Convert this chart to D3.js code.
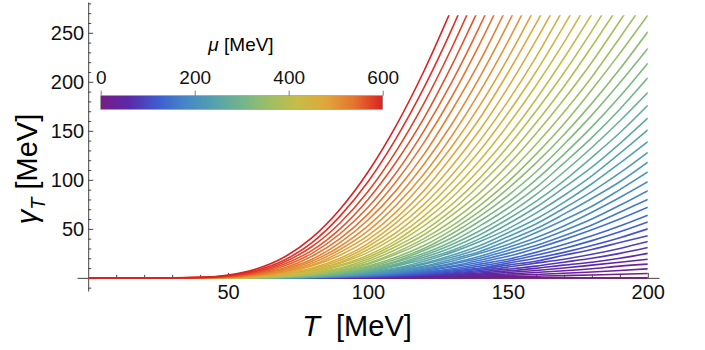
<!DOCTYPE html>
<html><head><meta charset="utf-8">
<script src="https://cdn.jsdelivr.net/npm/d3@7"></script>
<style>body{margin:0;background:#fff} svg{font-family:"Liberation Sans",Arial,sans-serif}</style>
</head><body><svg id="chart" width="705" height="350"></svg>
<script>
// chemical potential of each curve [MeV]
const muValues = [0, 12.5, 25, 37.5, 50, 62.5, 75, 87.5, 100, 112.5, 125, 137.5, 150, 162.5, 175, 187.5,
  200, 212.5, 225, 237.5, 250, 262.5, 275, 287.5, 300, 312.5, 325, 337.5, 350, 362.5, 375, 387.5,
  400, 412.5, 425, 437.5, 450, 462.5, 475, 487.5, 500, 512.5, 525, 537.5, 550, 562.5, 575, 587.5, 600];
// temperatures at which gamma_T was read [MeV]
const tGrid = [0, 30, 40, 50, 60, 70, 80, 90, 100, 110, 120, 130, 140, 150, 160, 170, 180, 190, 200];
// gamma_T [MeV], one row per mu (rows stop once above the plot top)
const gammaByMu = [
  [0,0,0,0,0,0,0,0,0,0,0,0,0,0,0,0,0,0,0],
  [0,0,0,0,0,0,0,0,0.1,0.2,0.3,0.6,0.9,1.2,1.7,2.3,2.9,3.7,4.5],
  [0,0,0,0,0,0,0,0.1,0.2,0.4,0.7,1.2,1.8,2.6,3.5,4.7,6,7.5,9.2],
  [0,0,0,0,0,0,0,0.1,0.3,0.6,1.1,1.8,2.8,4,5.5,7.2,9.3,12,14],
  [0,0,0,0,0,0,0.1,0.2,0.4,0.9,1.6,2.5,3.8,5.5,7.5,10,13,16,19],
  [0,0,0,0,0,0,0.1,0.3,0.6,1.2,2,3.3,5,7.1,9.7,13,16,20,25],
  [0,0,0,0,0,0,0.1,0.3,0.7,1.5,2.6,4.1,6.2,8.9,12,16,20,25,31],
  [0,0,0,0,0,0,0.1,0.4,0.9,1.8,3.1,5,7.5,11,15,19,24,30,37],
  [0,0,0,0,0,0,0.2,0.5,1.1,2.1,3.7,6,8.9,13,17,23,29,36,43],
  [0,0,0,0,0,0.1,0.2,0.6,1.3,2.5,4.4,7,10,15,20,26,33,41,50],
  [0,0,0,0,0,0.1,0.3,0.7,1.5,3,5.1,8.1,12,17,23,30,38,47,57],
  [0,0,0,0,0,0.1,0.3,0.8,1.8,3.4,5.9,9.3,14,19,26,34,43,53,64],
  [0,0,0,0,0,0.1,0.4,1,2.1,4,6.8,11,16,22,30,39,49,60,72],
  [0,0,0,0,0,0.1,0.4,1.1,2.4,4.5,7.7,12,18,25,33,43,54,67,80],
  [0,0,0,0,0,0.1,0.5,1.3,2.7,5.1,8.7,14,20,28,37,48,60,74,89],
  [0,0,0,0,0,0.2,0.6,1.5,3.1,5.8,9.8,15,22,31,41,53,67,82,98],
  [0,0,0,0,0,0.2,0.7,1.7,3.5,6.6,11,17,25,34,46,59,73,90,108],
  [0,0,0,0,0,0.2,0.8,1.9,4,7.4,12,19,27,38,50,65,81,98,118],
  [0,0,0,0,0.1,0.3,0.9,2.2,4.5,8.3,14,21,30,42,55,71,88,107,128],
  [0,0,0,0,0.1,0.3,1,2.5,5,9.3,15,23,33,46,60,77,96,117,139],
  [0,0,0,0,0.1,0.4,1.1,2.8,5.7,10,17,26,37,50,66,84,104,127,151],
  [0,0,0,0,0.1,0.4,1.3,3.2,6.4,12,19,28,40,55,72,92,113,137,163],
  [0,0,0,0,0.1,0.5,1.5,3.6,7.2,13,21,31,44,60,78,99,123,148,176],
  [0,0,0,0,0.1,0.6,1.7,4,8.1,14,23,34,48,65,85,108,133,160,189],
  [0,0,0,0,0.2,0.7,2,4.6,9,16,25,37,53,71,92,117,143,172,204],
  [0,0,0,0,0.2,0.8,2.2,5.1,10,17,28,41,58,77,100,126,154,185,219],
  [0,0,0,0,0.2,0.9,2.5,5.8,11,19,30,45,63,84,108,136,166,199,234],
  [0,0,0,0,0.3,1,2.9,6.5,12,21,33,49,68,91,117,146,178,213,251],
  [0,0,0,0.1,0.3,1.2,3.3,7.3,14,24,37,53,74,98,126,157,192,229,268],
  [0,0,0,0.1,0.4,1.4,3.7,8.2,15,26,40,58,80,106,136,169,205,245,286],
  [0,0,0,0.1,0.4,1.6,4.3,9.2,17,29,44,64,87,115,147,182,220,262,306],
  [0,0,0,0.1,0.5,1.9,4.8,10,19,32,48,69,95,124,158,195,236,279],
  [0,0,0,0.1,0.6,2.1,5.5,12,21,35,53,75,102,134,170,209,252,298],
  [0,0,0,0.1,0.7,2.5,6.2,13,23,38,58,82,111,144,182,224,269],
  [0,0,0,0.2,0.9,2.9,7.1,15,26,42,63,89,120,156,196,240,288],
  [0,0,0,0.2,1,3.3,8,16,29,46,69,97,130,168,210,257,307],
  [0,0,0,0.3,1.2,3.8,9.1,18,32,51,75,105,140,180,225,275],
  [0,0,0,0.3,1.4,4.4,10,20,35,56,82,114,151,194,242,293],
  [0,0,0,0.4,1.7,5.1,12,23,39,61,89,124,163,209,259,313],
  [0,0,0.1,0.5,2,5.9,13,26,43,67,98,134,176,224,277],
  [0,0,0.1,0.6,2.4,6.8,15,29,48,74,106,145,190,241,297],
  [0,0,0.1,0.7,2.8,7.8,17,32,53,81,116,157,205,259,318],
  [0,0,0.1,0.8,3.3,9,19,36,59,89,126,171,221,278],
  [0,0,0.1,1,3.9,10,22,40,65,98,138,185,239,298],
  [0,0,0.2,1.2,4.6,12,25,45,72,107,150,200,257,320],
  [0,0,0.2,1.5,5.4,14,28,50,80,118,163,217,277],
  [0,0,0.3,1.9,6.4,16,32,56,88,129,178,235,298],
  [0,0,0.4,2.3,7.6,18,36,63,98,142,194,254,321],
  [0,0,0.5,2.8,9,21,41,70,108,155,211,275]
];
const xTicks = [50, 100, 150, 200];
const xMinor = [10,20,30,40,60,70,80,90,110,120,130,140,160,170,180,190];
const yTicks = [50, 100, 150, 200, 250];
const yMinor = [-10,10,20,30,40,60,70,80,90,110,120,130,140,160,170,180,190,210,220,230,240,260,270,280];
const legendTicks = [0, 200, 400, 600];
const yTop = 268;

const svg = d3.select("#chart");
const x = d3.scaleLinear().domain([-4, 204]).range([77, 659]);
const y = d3.scaleLinear().domain([-13.4, 281.4]).range([291, 2]);

// Mathematica style "Rainbow" colours
const rainbow = ["#781c86", "#5a2aa8", "#3f5bcf", "#4686c6", "#54a1ad", "#72b58c", "#9ebf63", "#c7bc47", "#e0a63a", "#e5732f", "#db2122"];
const color = d3.scaleLinear().domain([0,60,120,180,240,300,360,420,480,540,600]).range(rainbow);

svg.append("defs").append("clipPath").attr("id","clip").append("rect")
  .attr("x", x(0)).attr("y", y(yTop)).attr("width", x(200)-x(0)).attr("height", y(-13.4)-y(yTop));

// axes, ticks point inwards
svg.append("g").attr("transform", `translate(0,${y(0)})`)
  .call(d3.axisBottom(x).tickValues(xTicks).tickSizeInner(-5).tickSizeOuter(0).tickPadding(7));
svg.append("g").attr("transform", `translate(0,${y(0)})`)
  .call(d3.axisBottom(x).tickValues(xMinor).tickSizeInner(-3).tickSizeOuter(0).tickFormat(""))
  .select(".domain").remove();
svg.append("g").attr("transform", `translate(${x(0)},0)`)
  .call(d3.axisLeft(y).tickValues(yTicks).tickSizeInner(-5).tickSizeOuter(0).tickPadding(4));
svg.append("g").attr("transform", `translate(${x(0)},0)`)
  .call(d3.axisLeft(y).tickValues(yMinor).tickSizeInner(-3).tickSizeOuter(0).tickFormat(""))
  .select(".domain").remove();
svg.selectAll(".tick line, .domain").attr("stroke", "#444");
svg.selectAll(".tick text").attr("fill", "#111").style("font-size", "20px").style("font-family", '"Liberation Sans",Arial,sans-serif');

// one curve per mu, red (largest mu) drawn last
const line = d3.line().x((d,i) => x(tGrid[i])).y(d => y(d)).curve(d3.curveMonotoneX);
svg.append("g").attr("clip-path","url(#clip)").selectAll("path").data(gammaByMu).join("path")
  .attr("d", line).attr("fill","none").attr("stroke-width",1.6)
  .attr("stroke", (d,i) => color(muValues[i]));

// axis titles
svg.append("text").attr("x", 357).attr("y", 336).attr("text-anchor","middle").style("font-size","29px")
  .call(t => { t.append("tspan").style("font-style","italic").text("T"); t.append("tspan").attr("xml:space","preserve").text("  [MeV]"); });
const yt = svg.append("text").attr("transform","translate(37,169) rotate(-90)").attr("text-anchor","middle").style("font-size","29px");
yt.append("tspan").style("font-style","italic").text("γ");
yt.append("tspan").style("font-style","italic").style("font-size","20px").attr("dy", 8).text("T");
yt.append("tspan").attr("dy", -8).text(" [MeV]");

// colour bar legend
const lg = svg.append("linearGradient").attr("id","grad");
color.domain().forEach(v => lg.append("stop").attr("offset", v/600).attr("stop-color", color(v)));
const bx = d3.scaleLinear().domain([0,600]).range([100.7, 382.7]);
svg.append("rect").attr("x", bx(0)).attr("y", 95.7).attr("width", bx(600)-bx(0)).attr("height", 13.6)
  .attr("fill","url(#grad)").attr("stroke","#888").attr("stroke-width",0.6);
const la = svg.append("g").attr("transform","translate(0,95.7)")
  .call(d3.axisTop(bx).tickValues(legendTicks).tickSize(5).tickPadding(7));
la.select(".domain").remove();
la.selectAll("line").attr("stroke","#777");
la.selectAll("text").attr("fill","#111").style("font-size","19px").style("font-family",'"Liberation Sans",Arial,sans-serif');
svg.append("text").attr("x", 241).attr("y", 51).attr("text-anchor","middle").style("font-size","19px")
  .call(t => { t.append("tspan").style("font-style","italic").text("μ"); t.append("tspan").text(" [MeV]"); });
</script></body></html>
